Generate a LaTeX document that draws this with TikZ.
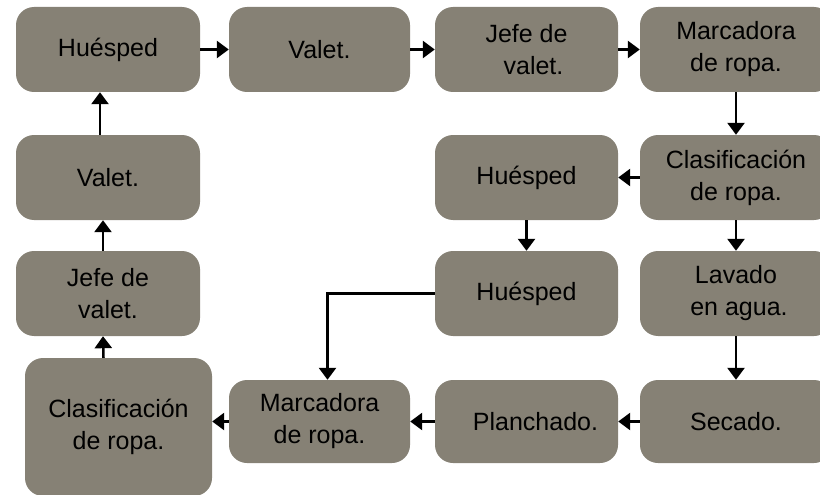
\documentclass[tikz,border=0pt]{standalone}
\usepackage{fontspec}
\setmainfont{Liberation Sans}
\usetikzlibrary{arrows.meta}
\definecolor{boxfill}{RGB}{134,129,117}
\tikzset{
  box/.style={fill=boxfill, rounded corners=18pt, minimum width=184pt, minimum height=85pt,
    inner sep=0pt, align=center, font=\fontsize{25}{32}\selectfont, text=black},
  link/.style={line width=2.5pt, -{Triangle[width=17pt,length=12pt]}},
}
\begin{document}
\begin{tikzpicture}[x=1pt,y=-1pt]
\useasboundingbox (0,0) rectangle (820,495);
% row 1
\node[box] (h1) at (108,49.5) {Huésped};
\node[box, minimum width=181pt] (v1) at (319.5,49.5) {\raisebox{-5pt}{Valet.}};
\node[box, minimum width=183pt] (j1) at (526.5,49.5) {Jefe de\\ \hspace*{14pt}valet.};
\node[box, minimum width=192pt] (m1) at (736,49.5) {Marcadora\\ de ropa.};
% row 2
\node[box] (v2) at (108,177.5) {Valet.};
\node[box, minimum width=183pt] (h2) at (526.5,177.5) {Huésped};
\node[box, minimum width=192pt] (c2) at (736,177.5) {Clasificación\\ de ropa.};
% row 3
\node[box] (j3) at (108,293.5) {Jefe de\\ valet.};
\node[box, minimum width=183pt] (h3) at (526.5,293.5) {Huésped};
\node[box, minimum width=192pt] (l3) at (736,293.5) {Lavado\\ \hspace*{6pt}en agua.};
% row 4
\node[box, minimum width=187pt, minimum height=138pt] (c4) at (118.5,427) {Clasificación\\ de ropa.};
\node[box, minimum width=181pt, minimum height=83pt] (m4) at (319.5,421.5) {Marcadora\\ de ropa.};
\node[box, minimum width=183pt, minimum height=83pt] (p4) at (526.5,421.5) {\hspace*{18pt}Planchado.};
\node[box, minimum width=192pt, minimum height=83pt] (s4) at (736,421.5) {\raisebox{-3pt}{Secado.}};
% connectors
\draw[link] (h1.east) -- (v1.west);
\draw[link] (v1.east) -- (j1.west);
\draw[link] (j1.east) -- (m1.west);
\draw[link] (m1.south) -- (c2.north);
\draw[link] (c2.west) -- (h2.east);
\draw[link] (c2.south) -- (l3.north);
\draw[link] (h2.south) -- (h3.north);
\draw[link] (l3.south) -- (s4.north);
\draw[link] (s4.west) -- (p4.east);
\draw[link] (p4.west) -- (m4.east);
\draw[link] (m4.west) -- (m4.west -| c4.east);
\draw[link] (h3.west) -| ([xshift=8pt]m4.north);
\draw[link] ([xshift=-15pt]c4.north) -- ([xshift=-5pt]j3.south);
\draw[link] ([xshift=-5pt]j3.north) -- ([xshift=-5pt]v2.south);
\draw[link] ([xshift=-8pt]v2.north) -- ([xshift=-8pt]h1.south);
\end{tikzpicture}
\end{document}
